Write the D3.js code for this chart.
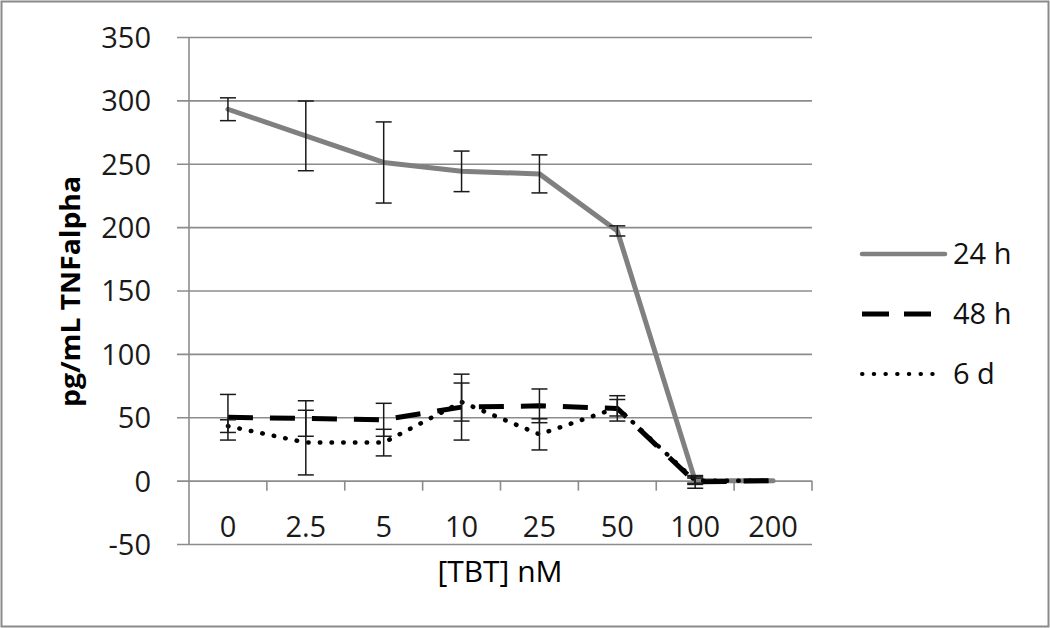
<!DOCTYPE html>
<html>
<head>
<meta charset="utf-8">
<script src="https://cdn.jsdelivr.net/npm/d3@7"></script>
<style>
  html, body { margin: 0; padding: 0; background: #fff; }
  svg { display: block; }
</style>
</head>
<body>
<svg id="chart" width="1050" height="628"></svg>
<script>
const categories = ["0", "2.5", "5", "10", "25", "50", "100", "200"];
const yTicks = [-50, 0, 50, 100, 150, 200, 250, 300, 350];
const seriesNames = ["24 h", "48 h", "6 d"];
const values24h = [293, 272, 251, 244, 242, 197, 0, 0];
const err24h    = [9, 27.5, 32, 16, 15, 4, 3, 0];
const values48h = [50, 49, 48, 58, 59, 57, -1, 0];
const err48h    = [18, 14, 13, 26, 13.3, 10, 5, 0];
const values6d  = [43, 30, 30, 62, 36.5, 57.5, 0, 0];
const err6d     = [5, 25.5, 10.5, 15, 12.3, 6.5, 2, 0];

const svg = d3.select("#chart");
const W = 1050, H = 628;
const plot = { left: 189, right: 812, top: 37, bottom: 544 };
const font = "'Open Sans', 'Noto Sans', sans-serif";

// outer border
svg.append("rect").attr("x", 1.5).attr("y", 1.5).attr("width", W - 3).attr("height", H - 3)
  .attr("fill", "#fff").attr("stroke", "#8a8a8a").attr("stroke-width", 2);

const x = d3.scaleBand().domain(categories).range([plot.left, plot.right]).padding(0);
const y = d3.scaleLinear().domain([-50, 350]).range([plot.bottom, plot.top]);
const cx = c => x(c) + x.bandwidth() / 2;

const grid = "#8c8c8c";

// horizontal gridlines + y axis
const yAxis = d3.axisLeft(y).tickValues(yTicks).tickSize(-(plot.right - plot.left)).tickFormat(d => String(d));
const gy = svg.append("g").attr("transform", `translate(${plot.left},0)`).call(yAxis);
gy.select(".domain").remove();
gy.selectAll(".tick line").attr("stroke", grid).attr("stroke-width", 1.6).attr("x1", -12);
gy.selectAll(".tick text").attr("font-family", font).attr("font-size", 29).attr("fill", "#1a1a1a")
  .attr("dy", "0.36em").attr("x", -38);
// vertical axis line
svg.append("line").attr("x1", plot.left).attr("x2", plot.left).attr("y1", plot.top).attr("y2", plot.bottom + 1)
  .attr("stroke", grid).attr("stroke-width", 1.6);

// category axis at 0
const xAxis = d3.axisBottom(x).tickSize(0).tickPadding(0);
const gx = svg.append("g").attr("transform", `translate(0,${y(0)})`).call(xAxis);
gx.select(".domain").remove();
gx.selectAll(".tick text").attr("font-family", font).attr("font-size", 29).attr("fill", "#1a1a1a")
  .attr("y", 0).attr("dy", 0).attr("transform", `translate(0,${537 - y(0)})`);
// boundary tick marks
const bounds = categories.slice(1).map(c => x(c)).concat([plot.right]);
svg.append("g").selectAll("line").data(bounds).join("line")
  .attr("x1", d => d).attr("x2", d => d).attr("y1", y(0)).attr("y2", y(0) + 10)
  .attr("stroke", grid).attr("stroke-width", 1.6);

// series
const series = [
  { name: seriesNames[0], vals: values24h, errs: err24h, color: "#808080", width: 5, dash: null, cap: "round" },
  { name: seriesNames[1], vals: values48h, errs: err48h, color: "#000", width: 5, dash: "25,17", cap: "butt" },
  { name: seriesNames[2], vals: values6d,  errs: err6d,  color: "#000", width: 4.5, dash: "0.5,11.2", cap: "round" }
];

const line = d3.line().x(d => cx(d.c)).y(d => y(d.v));
series.forEach(s => {
  const pts = categories.map((c, i) => ({ c, v: s.vals[i] }));
  svg.append("path").datum(pts).attr("d", line).attr("fill", "none")
    .attr("stroke", s.color).attr("stroke-width", s.width)
    .attr("stroke-linecap", s.cap).attr("stroke-linejoin", "round")
    .attr("stroke-dasharray", s.dash);
});

// error bars
series.forEach(s => {
  const eb = categories.map((c, i) => ({ c, v: s.vals[i], e: s.errs[i] })).filter(d => d.e > 0);
  const g = svg.append("g").attr("stroke", "#1a1a1a").attr("stroke-width", 1.5);
  g.selectAll(".v").data(eb).join("line")
    .attr("x1", d => cx(d.c)).attr("x2", d => cx(d.c))
    .attr("y1", d => y(d.v + d.e)).attr("y2", d => y(d.v - d.e));
  g.selectAll(".t").data(eb).join("line")
    .attr("x1", d => cx(d.c) - 8).attr("x2", d => cx(d.c) + 8)
    .attr("y1", d => y(d.v + d.e)).attr("y2", d => y(d.v + d.e));
  g.selectAll(".b").data(eb).join("line")
    .attr("x1", d => cx(d.c) - 8).attr("x2", d => cx(d.c) + 8)
    .attr("y1", d => y(d.v - d.e)).attr("y2", d => y(d.v - d.e));
});

// axis titles
svg.append("text").attr("transform", `translate(80,${(plot.top + plot.bottom) / 2 + 1}) rotate(-90)`)
  .attr("text-anchor", "middle").attr("font-family", font).attr("font-weight", "bold")
  .attr("font-size", 26).attr("fill", "#000")
  .attr("textLength", 231).attr("lengthAdjust", "spacingAndGlyphs").text("pg/mL TNFalpha");
svg.append("text").attr("x", 500).attr("y", 582).attr("text-anchor", "middle")
  .attr("font-family", font).attr("font-size", 30).attr("fill", "#000").text("[TBT] nM");

// legend
const legendY = [254, 314, 374];
const legendLen = [83, 69, 75];
series.forEach((s, i) => {
  svg.append("line").attr("x1", 862).attr("x2", 862 + legendLen[i]).attr("y1", legendY[i]).attr("y2", legendY[i])
    .attr("stroke", s.color).attr("stroke-width", i === 1 ? 5 : (i === 0 ? 4.5 : 4))
    .attr("stroke-linecap", s.cap).attr("stroke-dasharray", i === 1 ? "27,15" : s.dash);
  svg.append("text").attr("x", 953).attr("y", legendY[i]).attr("dy", "0.36em")
    .attr("font-family", font).attr("font-size", 29).attr("fill", "#111").text(s.name);
});
</script>
</body>
</html>
